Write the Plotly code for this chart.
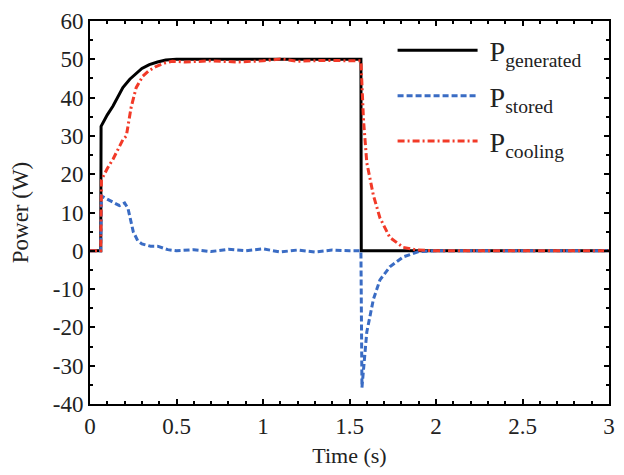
import plotly.graph_objects as go

# ---- data ----
t_gen = [0, 0.062, 0.064, 0.1, 0.133, 0.16, 0.19, 0.23, 0.267, 0.3, 0.343, 0.39, 0.438, 0.5, 1.566, 1.568, 3.0]
p_gen = [0, 0, 32.5, 35.5, 37.8, 40, 42.6, 44.8, 46.4, 47.6, 48.6, 49.3, 49.8, 50, 50, 0, 0]

t_sto = [0, 0.062, 0.066, 0.1, 0.14, 0.17, 0.2, 0.22, 0.25, 0.276, 0.3, 0.35, 0.39, 0.45, 0.5,
         0.6, 0.7, 0.8, 0.9, 1.0, 1.1, 1.2, 1.3, 1.4, 1.5, 1.566, 1.572, 1.6, 1.638, 1.676,
         1.733, 1.81, 1.9, 2.0, 3.0]
p_sto = [0, 0, 14.3, 13.5, 12.6, 11.8, 12.5, 11, 5, 2.6, 1.8, 1.2, 1.2, 0.3, 0,
         0.3, -0.2, 0.4, 0, 0.5, -0.3, 0.2, -0.3, 0.2, 0, 0, -35.7, -21.2, -12.7, -7.6,
         -4.2, -1.6, -0.2, 0, 0]

t_cool = [0, 0.062, 0.066, 0.1, 0.133, 0.16, 0.19, 0.21, 0.238, 0.267, 0.305, 0.34, 0.381, 0.43,
          0.476, 0.55, 0.7, 0.85, 1.0, 1.1, 1.2, 1.35, 1.5, 1.566, 1.581, 1.6, 1.638, 1.676,
          1.733, 1.81, 1.89, 2.0, 3.0]
p_cool = [0, 0, 18.5, 21.5, 23.9, 26.5, 29, 30, 37.5, 42.6, 45.6, 47, 48.1, 49,
          49.5, 49.3, 49.6, 49.3, 49.6, 50.1, 49.5, 49.7, 49.6, 49.6, 34.1, 23, 14.5, 8.6,
          3.5, 0.9, 0.2, 0, 0]

x_ticks = [0, 0.5, 1, 1.5, 2, 2.5, 3]
x_tick_labels = ["0", "0.5", "1", "1.5", "2", "2.5", "3"]
y_ticks = [-40, -30, -20, -10, 0, 10, 20, 30, 40, 50, 60]
y_tick_labels = [str(v) for v in y_ticks]

FONT = "Liberation Serif, Times New Roman, serif"

fig = go.Figure()
fig.add_trace(go.Scatter(x=t_gen, y=p_gen, mode="lines",
                         name=" P<sub>generated</sub>", legendgroup="g1",
                         line=dict(color="black", width=3)))
fig.add_trace(go.Scatter(x=t_sto, y=p_sto, mode="lines",
                         name=" P<sub>stored</sub>", legendgroup="g2",
                         line=dict(color="#3a6cc4", width=3, dash="6px,3px")))
fig.add_trace(go.Scatter(x=t_cool, y=p_cool, mode="lines",
                         name=" P<sub>cooling</sub>", legendgroup="g3",
                         line=dict(color="#f23a28", width=3, dash="7px,3px,2px,3px")))

axis_common = dict(
    showgrid=False, zeroline=False, showline=True, linecolor="black", linewidth=2,
    mirror="ticks", ticks="inside", ticklen=5, tickwidth=1.5, tickcolor="black",
    tickfont=dict(family=FONT, size=23, color="#222"),
)

fig.update_xaxes(range=[0, 3], tickvals=x_ticks, ticktext=x_tick_labels,
                 minor=dict(dtick=0.1, ticks="inside", ticklen=3, tickcolor="black"),
                 ticklabelstandoff=0,
                 title=dict(text="Time (s)", font=dict(family=FONT, size=22, color="#222"), standoff=10),
                 **axis_common)
fig.update_yaxes(range=[-40, 60], tickvals=y_ticks, ticktext=y_tick_labels,
                 minor=dict(dtick=5, ticks="inside", ticklen=3, tickcolor="black"),
                 title=dict(text="Power (W)", font=dict(family=FONT, size=23, color="#222"), standoff=18),
                 **axis_common)

fig.update_layout(
    width=624, height=475,
    margin=dict(l=90, r=9, t=12, b=71),
    paper_bgcolor="white", plot_bgcolor="white",
    showlegend=True,
    legend=dict(x=0.583, y=0.988, xanchor="left", yanchor="top",
                bgcolor="rgba(255,255,255,0)", borderwidth=0,
                itemwidth=80, tracegroupgap=6,
                font=dict(family=FONT, size=28, color="#222")),
)

fig.write_html("out.html")
